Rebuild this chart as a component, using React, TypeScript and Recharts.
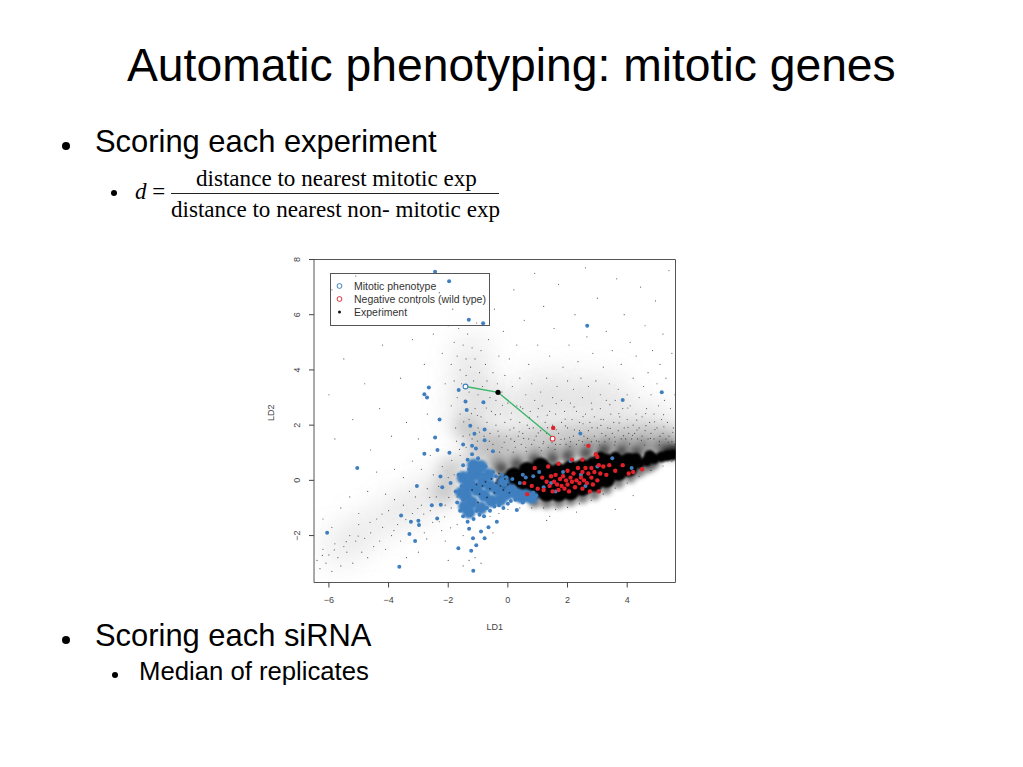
import React from "react";
import { ScatterChart, Scatter, XAxis, YAxis, ReferenceArea } from "recharts";

const titleText = "Automatic phenotyping: mitotic genes";
const xTicks = [-6, -4, -2, 0, 2, 4];
const yTicks = [-2, 0, 2, 4, 6, 8];

const faintHaze = [[-1.2,4.6],[-1.3,3.6],[-0.9,3],[-0.3,2.6],[0.6,2.4],[1.4,2.6],[2.4,2.5],[3.4,2.4],[4.4,2.2],[5.2,2],[-1.5,2.4],[1,3.4],[2.2,3.4],[3.4,3.2],[-4.8,-1.8],[-5.6,-2.4],[-3.8,-1.2],[-3,-0.8],[-2.2,-0.2]];
const midHaze = [[-0.8,1.5],[-0.2,1.35],[0.4,1.35],[1,1.45],[1.6,1.5],[2.2,1.6],[2.8,1.6],[3.4,1.6],[4,1.6],[4.6,1.6],[5.2,1.5],[5.5,1.4],[-1.1,0.9],[-0.4,0.9],[-1.4,1.9],[-1.9,0.4],[-2.1,-0.4]];
const denseHaze = [[-0.3,0.55],[0.3,0.7],[0.9,0.85],[1.5,0.95],[2.1,1.05],[2.7,1.15],[3.3,1.2],[3.9,1.2],[4.5,1.2],[5.1,1.15],[5.5,1.1]];
const blackCore = [[0.5,-0.1],[0.9,-0.35],[0.9,0.1],[1.3,-0.45],[1.3,0],[1.3,0.3],[1.7,-0.45],[1.7,-0.1],[1.7,0.3],[2.1,-0.4],[2.1,0],[2.1,0.4],[2.5,-0.25],[2.5,0.1],[2.5,0.45],[2.9,-0.1],[2.9,0.25],[2.9,0.55],[3.3,0.05],[3.3,0.4],[3.3,0.65],[3.7,0.3],[3.7,0.6],[4.05,0.45],[4.05,0.68],[0.2,0.15],[-0.1,-0.1],[1.1,0.5],[0.65,0.35]];
const blackTaper = [[4.4,0.62],[4.65,0.7],[4.9,0.78],[5.15,0.85],[5.35,0.9],[5.55,0.93],[4.3,0.8],[4.75,0.9],[3.6,0.85],[3.1,0.85]];
const blackEdge = [[5.3,1.02],[5.5,1.05],[5.6,1.05],[4.9,0.62],[4.7,0.48],[4.4,0.32],[4.1,0.12],[3.7,-0.08],[3.3,-0.3],[2.9,-0.5],[2.5,-0.62],[2.1,-0.72],[1.7,-0.8],[1.3,-0.82],[0.9,-0.78],[4.3,1],[3.8,1.02],[3.2,1.05],[2.6,0.95],[2,0.85],[1.5,0.75],[0.9,0.7],[0.3,0.55],[-0.2,0.4]];

const sparseDots = [
[-6.4,-2.9],[-6.3,-3.2],[-6.2,-2.5],[-6.1,-3],[-6,-2.7],[-5.9,-3.3],[-5.8,-2.3],[-5.7,-2.8],[-5.6,-3.1],[-5.5,-2.4],[-5.4,-2.6],[-5.3,-2],[-5.2,-3],[-5.1,-2.2],[-5,-1.6],[-4.9,-2.6],[-4.8,-2.1],[-4.7,-2.8],[-4.6,-1.9],[-4.5,-2.4],[-4.4,-1.4],[-4.3,-2.2],[-4.2,-1.7],[-4.1,-2.5],[-4,-1.1],[-3.9,-2],[-3.8,-0.7],[-3.7,-1.6],[-3.6,-2.2],[-3.5,-0.9],[-3.4,-2.8],[-3.3,-0.4],[-3.2,-1.2],[-3.1,-0.6],[-3,-2.6],[-2.9,-0.9],[-2.8,-1.9],[-2.7,-0.3],[-2.6,-1.1],[-2.5,0.2],[-2.4,-0.6],[-2.3,-1.5],[-2.2,0.5],[-2.1,-0.9],[-2,0.1],[-6.2,-1.4],[-5.9,-1.7],[-5.6,-1],[-5.3,-0.6],[-5,-1.2],[-4.7,-0.4],[-4.4,0.3],[-4.1,-0.5],[-3.8,0.4],[-3.5,0.1],[-3.2,0.7],[-2.9,0.4],[-2.6,0.9],[-5.8,1.5],[-5.2,2.2],[-4.6,1.1],[-4.3,2.6],[-3.9,1.6],[-3.4,2.1],[-3,1.5],[-2.7,2.4],[-6,3.1],[-5.5,4.4],[-4.8,3.5],[-4.2,4.9],[-3.6,3.7],[-3.2,5.1],[-2.8,4.2],[-5.9,6.9],[-5.1,7.4],[-4.3,6.2],[-3.7,7],[-3,6.4],[-2.5,5.3],[-2.3,6.8],[-2.2,4.6],[-2.1,3.5],[-2,5.6],[-1.9,4.2],[-1.9,2.7],[-1.85,6.2],[-1.8,3.6],[-1.8,5],[-1.75,1.9],[-1.7,4.5],[-1.7,3],[-1.65,5.5],[-1.6,2.4],[-1.6,4],[-1.55,3.5],[-1.5,4.9],[-1.5,1.6],[-1.45,2.9],[-1.4,4.4],[-1.4,3.8],[-1.35,5.3],[-1.3,2.2],[-1.3,3.2],[-1.25,4.1],[-1.2,4.8],[-1.2,1.5],[-1.15,3.6],[-1.1,2.6],[-1.1,4.4],[-1.05,5.7],[-1,3.1],[-1,1.9],[-0.95,3.9],[-0.9,2.3],[-0.9,4.7],[-0.85,3.4],[-0.8,1.6],[-0.8,2.8],[-0.75,4.2],[-0.7,3.6],[-0.7,2.1],[-0.65,5.1],[-0.6,3],[-0.6,1.7],[-0.55,2.5],[-0.5,3.9],[-0.5,1.3],[-0.45,6.2],[-0.4,2.9],[-0.4,2],[-0.35,3.5],[-0.3,4.5],[-0.3,1.6],[-0.25,2.4],[-0.2,3.2],[-0.2,1.2],[-0.15,5.4],[-0.1,2.1],[-0.1,3.8],[-0.05,1.6],[0,2.8],[0,1.1],[0.05,4.4],[0.1,2.2],[0.1,1.5],[0.15,3.4],[0.2,1.9],[0.2,6.9],[0.25,1.2],[0.3,2.7],[0.3,4.9],[0.35,1.6],[0.4,3.7],[0.4,2.1],[0.45,1.3],[0.5,2.6],[0.5,1.7],[0.55,5.8],[0.6,3.1],[0.6,1.2],[0.65,2],[0.7,4.2],[0.7,1.5],[0.75,2.5],[0.8,3.5],[0.8,1.3],[0.85,1.9],[0.9,7.5],[0.9,2.9],[0.95,1.6],[1,4.9],[1,2.3],[1.05,1.2],[1.1,3.2],[1.1,1.8],[1.15,2.7],[1.2,1.4],[1.2,6.3],[1.25,2.1],[1.3,3.7],[1.3,1.7],[1.35,1.2],[1.4,2.5],[1.4,4.5],[1.45,1.5],[1.5,3],[1.5,2],[1.55,5.5],[1.6,1.3],[1.6,2.4],[1.65,3.4],[1.7,1.7],[1.7,7.1],[1.75,1.3],[1.8,2.9],[1.8,2.1],[1.85,4.1],[1.9,1.5],[1.9,2.5],[1.95,1.3],[2,3.6],[2,1.9],[2.05,4.9],[2.1,1.4],[2.1,2.8],[2.15,2.2],[2.2,1.6],[2.2,3.3],[2.25,6],[2.3,1.3],[2.3,2.5],[2.35,4.3],[2.4,1.8],[2.4,2.1],[2.45,3.7],[2.5,1.4],[2.5,3],[2.55,1.6],[2.6,2.4],[2.6,7.7],[2.65,5.2],[2.7,1.8],[2.7,3.4],[2.75,2.1],[2.8,1.4],[2.8,2.8],[2.85,4.6],[2.9,1.6],[2.9,2.3],[2.95,3.6],[3,1.9],[3,6.6],[3.05,1.4],[3.1,2.6],[3.1,3.1],[3.15,1.7],[3.2,4.1],[3.2,2.2],[3.25,1.4],[3.3,2.9],[3.3,5.4],[3.35,1.9],[3.4,1.5],[3.4,3.5],[3.45,2.4],[3.5,1.7],[3.5,4.7],[3.55,2.1],[3.6,1.4],[3.6,2.9],[3.65,7.3],[3.7,1.8],[3.7,3.3],[3.75,2.3],[3.8,1.5],[3.8,4.2],[3.85,2.6],[3.9,1.9],[3.9,6],[3.95,1.5],[4,2.2],[4,3.1],[4.05,1.7],[4.1,5],[4.1,2.7],[4.15,1.5],[4.2,3.7],[4.2,2],[4.25,1.7],[4.3,2.4],[4.3,4.5],[4.35,1.5],[4.4,3],[4.4,1.9],[4.45,7],[4.5,2.3],[4.5,1.6],[4.55,3.4],[4.6,1.8],[4.6,5.6],[4.65,2.6],[4.7,1.5],[4.7,3.9],[4.75,2.1],[4.8,1.7],[4.8,3.1],[4.85,4.7],[4.9,2.4],[4.9,1.5],[4.95,6.5],[5,1.9],[5,3.5],[5.05,2.7],[5.1,1.6],[5.1,4.2],[5.15,2.2],[5.2,1.7],[5.2,5.3],[5.25,2.9],[5.3,1.5],[5.3,3.7],[5.35,2.1],[5.4,1.6],[5.4,7.6],[5.45,2.6],[5.5,1.4],[5.5,4.6],[5.55,1.9],[5.6,1.3],[5.6,3.1],
[-1.7,-0.6],[-1.8,0.2],[-1.6,0.9],[-1.9,-1],[-1.4,1.2],[-1.1,1.2],[-1.7,-1.6],[-1.5,-2],[-1.3,-2.9],[-1.1,-2.8],[-0.6,-1.3],[-0.3,-1.2],[0,-1.05],[0.4,-1],[0.8,-1],[1.2,-1],[1.6,-1.05],[2,-0.98],[2.4,-0.85],[2.8,-0.72],[3.2,-0.5],[3.6,-0.28],[4,-0.1],[4.4,0.14],[4.8,0.36],[5.2,0.52],[5.5,0.68],[1.4,-1.3],[3.6,-1.05],[-2.1,-2.2],[-2,-2.9],[-1.5,-3.1],[-0.9,-3],[-0.5,-1.9],[1.3,-1.45],[2.3,-1.15],[4.2,-0.55],
[-0.95,1.75],[-0.62,1.42],[-0.33,1.78],[-0.12,1.38],[0.07,1.83],[0.22,1.41],[0.38,1.76],[0.53,1.52],[0.72,1.88],[0.88,1.46],[1.02,1.72],[1.18,1.33],[1.33,1.91],[1.48,1.37],[1.62,1.83],[1.78,1.48],[1.93,1.97],[2.07,1.55],[2.23,1.83],[2.38,1.45],[2.52,2.05],[2.67,1.52],[2.82,1.91],[2.97,1.43],[3.12,1.99],[3.28,1.62],[3.43,1.88],[3.58,1.57],[3.73,2.08],[3.88,1.62],[4.03,1.92],[4.18,1.63],[4.33,1.82],[4.48,1.45],[4.63,1.98],[4.78,1.52],[4.93,1.84],[5.08,1.41],[5.23,1.94],[5.38,1.38],[5.53,1.74],
[-1.02,2.35],[-0.72,2.62],[-0.42,2.38],[-0.18,2.72],[0.12,2.44],[0.42,2.66],[0.72,2.28],[1.02,2.6],[1.32,2.36],[1.62,2.78],[1.92,2.22],[2.22,2.66],[2.52,2.31],[2.82,2.58],[3.12,2.21],[3.42,2.74],[3.72,2.42],[4.02,2.62],[4.32,2.18],[4.62,2.42],[4.92,2.12],[5.22,2.38],
[-1.62,1.12],[-1.88,0.72],[-1.28,1.65],[-1.48,2.12],[-1.72,1.42],[-1.22,2.42],[-1.02,1.42],[-0.68,1.12],[-0.28,1.02],[0.18,1.02],[0.62,1.05],[1.12,1.08],[1.58,1.12],[2.08,1.22],[2.58,1.28],[3.08,1.28],[3.58,1.28],[4.08,1.32],[4.58,1.28],[5.08,1.28],[5.58,1.22],
[-2.12,-1.32],[-1.98,-0.62],[-2.32,-0.22],[-2.62,-0.62],[-2.82,-1.22],[-3.02,-1.02],[-3.42,-1.42],[-3.82,-1.82],[-4.22,-1.22],[-4.62,-1.52],[-5.02,-2.02],[-5.42,-2.22],[-5.82,-2.52],[-6.22,-2.72],[-1.92,-1.72],[-2.22,-1.82],[-2.52,-1.52],[-2.72,-2.12]
];
const blackSpecks = [[-1.2,-0.35],[-1.05,-0.15],[-0.95,-0.5],[-0.85,-0.2],[-0.75,-0.05],[-0.6,-0.3],[-0.45,-0.45],[-0.4,-0.1],[-0.25,-0.2],[-0.15,-0.35],[-0.1,0.05],[0,-0.15],[0.05,-0.45],[0.12,0.12],[-0.7,-0.62],[-1,-0.8],[-0.55,0.05],[-0.3,0.25]];

const blueCore = [[-1.4,-0.55],[-1.25,-0.15],[-1.2,-0.8],[-1.05,0.25],[-1.05,-0.35],[-0.9,-1],[-0.85,-0.05],[-0.8,-0.55],[-0.6,-0.2],[-0.55,-0.75],[-0.35,-0.35],[-0.25,-0.7],[-0.15,-0.05],[-0.05,-0.5],[0.1,-0.35],[0.3,-0.5],[0.45,-0.6],[-1.2,0.2],[-0.65,0.2],[-1.35,-0.2],[-1.5,0.1],[-1.55,-0.45],[-1.45,-0.95],[-1.15,0.55],[-0.9,0.5],[-1.3,-1.15],[0.6,-0.55],[0.8,-0.62]];
const bluePoints = [
[-2.44,7.56],[-1.97,7.21],[-1.31,5.82],[-0.83,5.69],[2.66,5.6],[-2.65,3.36],[-2.8,3.12],[-2.71,3],[-1.65,3.27],[3.85,2.91],[5.16,3.19],[-1.42,2.86],[-0.82,2.83],[-1.38,2.55],[-2.29,2.2],[-1.26,1.98],[-0.78,1.84],[-1.12,1.69],[-2.44,1.55],[2.43,1.7],[-1.5,1.3],[-1.07,1.15],[-0.78,1.45],[-1.2,1.25],[-0.5,1.05],
[-5.05,0.45],[-6.06,-1.9],[-3.64,-3.13],[-1.16,-3.27],[-1.66,-2.46],[-1.23,-2.55],[-1.06,-2.35],[-3.11,-2.2],[-3.3,-1.94],[-3.58,-1.27],[-3.25,-1.5],[-3,-1.46],[-2.98,-1.62],[-2.37,-1.38],[-2.55,-0.9],[-2.25,-0.88],[-3.05,-0.2],[-2.8,0.96],[-2.36,1.1],[-1.96,1],[-2.26,0.14],[-2.2,-0.25],[-1.92,-0.1],[-1.17,-2.1],[-0.9,-1.85],[-0.78,-2.1],[-0.65,-1.7],[-0.37,-1.5],[0.3,-1.07],
[-1.75,-0.4],[-1.7,-0.8],[-1.65,0.2],[-1.6,-1.1],[-1.55,-0.2],[-1.5,0.55],[-1.5,-0.7],[-1.5,-1.3],[-1.45,0.1],[-1.4,-1],[-1.35,0.75],[-1.35,-1.5],[-1.3,-1.75],[-1.3,0.4],[-1.25,-1.25],[-1.2,0.95],[-1.15,-1.4],[-1.1,0.6],[-1.05,-1.1],[-1,0.8],[-0.95,-1.25],[-0.9,0.55],[-0.85,0.2],[-0.8,-1.3],[-0.75,0.5],[-0.7,-1],[-0.65,0.25],[-0.6,-1.1],[-0.5,0.3],[-0.45,-0.95],[-0.4,0.15],[-0.3,-0.9],[-0.2,0.2],[-0.15,-1],[-0.05,0.1],[0,-0.85],[0.1,-0.75],[0.15,0.05],[0.25,-0.7],[0.4,-0.1],[0.5,-0.8],[0.6,0.1],[0.65,-0.6],[0.75,-0.7],[0.85,-0.45],[0.95,-0.55],[1.05,0.3],[1.2,-0.25],[1.45,-0.1],[1.6,-0.4],[1.85,0.3],[2.1,0.7],[2.45,0.2],[2.6,-0.2],[0.5,0.2],[0.85,0.15],[3,0.5],[4.15,0.45],[3.5,0.8]
];
const redPoints = [
[1.52,1.9],[2.7,1.25],[0.55,-0.1],[0.65,-0.5],[0.8,-0.2],[1,-0.3],[1.15,0.1],[1.2,-0.35],[1.3,-0.05],[1.35,0.5],[1.4,-0.2],[1.45,0.15],[1.5,-0.4],[1.55,-0.05],[1.6,0.2],[1.65,-0.15],[1.7,-0.35],[1.75,0.05],[1.8,-0.2],[1.85,0.15],[1.9,-0.3],[1.95,0],[2,0.35],[2,-0.15],[2.05,-0.4],[2.1,0.1],[2.15,-0.05],[2.2,0.25],[2.25,-0.25],[2.3,0],[2.35,0.45],[2.4,-0.1],[2.45,0.1],[2.5,-0.3],[2.5,0.3],[2.55,0],[2.6,0.45],[2.65,-0.1],[2.7,0.25],[2.75,-0.4],[2.8,0.1],[2.8,0.45],[2.85,-0.15],[2.9,0.3],[3,0],[3,0.85],[3.05,0.55],[3.05,-0.4],[3.1,0.25],[3.2,0.5],[3.3,0.2],[3.4,0.55],[3.6,0.35],[3.85,0.55],[4.05,0.25],[4.2,0.3],[4.5,0.4],[2.15,0.75],[1.7,0.6],[0.9,0.45],[2.5,0.75],[2.95,0.95]
];
const selectedPath = [{ x: -1.42, y: 3.4 }, { x: -0.33, y: 3.19 }, { x: 1.5, y: 1.55 }];
const openBlue = [[-1.42, 3.4]];
const openRed = [[1.5, 1.51]];
const experimentPoint = [[-0.33, 3.19]];
const legendEntries = ["Mitotic phenotype", "Negative controls (wild type)", "Experiment"];

const rows = (list: number[][]) => list.map(([x, y]) => ({ x, y }));
const dot = (r: number, fill: string, opacity = 1, stroke = "none", blur = 0) => (p: any) => (
  <circle cx={p.cx} cy={p.cy} r={r} fill={fill} fillOpacity={opacity} stroke={stroke}
    strokeWidth={stroke === "none" ? 0 : 1.1} style={blur ? { filter: `blur(${blur}px)` } : undefined} />
);
const noDot = () => <g />;
const sans = "'Liberation Sans', Arial, sans-serif";
const serif = "'Liberation Serif', 'Times New Roman', serif";
const minus = (v: number) => String(v).replace("-", "\u2212");

const YTick = (p: any) => (
  <text transform={`rotate(-90 ${p.x} ${p.y})`} x={p.x} y={p.y} textAnchor="middle" fontSize={9} fill="#444" fontFamily={sans}>
    {minus(p.payload.value)}
  </text>
);

const LegendBox = () => (
  <svg width={160} height={53} style={{ position: "absolute", left: 330, top: 273, overflow: "visible" }}>
    <rect x={0.5} y={0.5} width={159} height={52} fill="none" stroke="#555" strokeWidth={1} />
    <circle cx={9.5} cy={13} r={2.4} fill="none" stroke="#3f7fbf" strokeWidth={1} />
    <circle cx={9.5} cy={26} r={2.4} fill="none" stroke="#e0303a" strokeWidth={1} />
    <circle cx={9.5} cy={39} r={1.5} fill="#111" />
    {legendEntries.map((t, i) => (
      <text key={t} x={24} y={17 + i * 13} fontSize={10.5} fill="#333" fontFamily={sans}>{t}</text>
    ))}
  </svg>
);

const Line = ({ style, children }: any) => (
  <div style={{ position: "absolute", whiteSpace: "nowrap", color: "#000", lineHeight: 1, ...style }}>{children}</div>
);
const Bullet = ({ x, y, r }: any) => (
  <div style={{ position: "absolute", left: x - r, top: y - r, width: 2 * r, height: 2 * r, borderRadius: "50%", background: "#000" }} />
);

export default function App() {
  return (
    <div style={{ position: "absolute", left: 0, top: 0, width: 1023, height: 767, background: "#fff", overflow: "hidden" }}>
      <Line style={{ left: 127, top: 42, fontFamily: sans, fontSize: 46.25 }}>{titleText}</Line>
      <Bullet x={66} y={146} r={4} />
      <Line style={{ left: 95, top: 127, fontFamily: sans, fontSize: 30.9 }}>Scoring each experiment</Line>
      <Bullet x={114} y={193} r={3} />
      <Line style={{ left: 135, top: 180, fontFamily: serif, fontSize: 23 }}><i>d</i> =</Line>
      <Line style={{ left: 196, top: 167, fontFamily: serif, fontSize: 23.1 }}>distance to nearest mitotic exp</Line>
      <div style={{ position: "absolute", left: 171, top: 193, width: 328, height: 1, background: "#222" }} />
      <Line style={{ left: 171, top: 198, fontFamily: serif, fontSize: 23.1 }}>distance to nearest non- mitotic exp</Line>
      <Bullet x={66} y={640} r={4} />
      <Line style={{ left: 95, top: 621, fontFamily: sans, fontSize: 30.9 }}>Scoring each siRNA</Line>
      <Bullet x={115} y={675} r={3} />
      <Line style={{ left: 139, top: 659, fontFamily: sans, fontSize: 25.7 }}>Median of replicates</Line>

      <div style={{ position: "absolute", left: 0, top: 0 }}>
        <ScatterChart width={1023} height={767} margin={{ left: 266, right: 347.5, top: 259.5, bottom: 137.5 }}>
          <XAxis type="number" dataKey="x" domain={[-6.5, 5.62]} ticks={xTicks} allowDataOverflow axisLine={false}
            tickSize={5} tickMargin={9} tickLine={{ stroke: "#444" }} tick={{ fontSize: 9, fill: "#444", fontFamily: sans }}
            tickFormatter={minus} interval={0} height={47}
            label={{ value: "LD1", position: "insideBottom", offset: 0, fontSize: 9, fill: "#444", fontFamily: sans }} />
          <YAxis type="number" dataKey="y" domain={[-3.7, 8]} ticks={yTicks} allowDataOverflow axisLine={false}
            tickSize={5} tickMargin={9} tickLine={{ stroke: "#444" }} tick={YTick} interval={0} width={48}
            label={{ value: "LD2", position: "insideLeft", angle: -90, offset: 5, fontSize: 9, fill: "#444", fontFamily: sans }} />
          <Scatter data={rows(faintHaze)} shape={dot(22, "#777", 0.1, "none", 12)} isAnimationActive={false} />
          <Scatter data={rows(midHaze)} shape={dot(13, "#555", 0.24, "none", 7)} isAnimationActive={false} />
          <Scatter data={rows(denseHaze)} shape={dot(9, "#333", 0.5, "none", 4)} isAnimationActive={false} />
          <Scatter data={rows(sparseDots)} shape={dot(0.6, "#333", 0.8)} isAnimationActive={false} />
          <Scatter data={rows(blackEdge)} shape={dot(6, "#222", 0.6, "none", 2.5)} isAnimationActive={false} />
          <Scatter data={rows(blackTaper)} shape={dot(5.5, "#000", 1, "none", 1)} isAnimationActive={false} />
          <Scatter data={rows(blackCore)} shape={dot(9, "#000", 1, "none", 1)} isAnimationActive={false} />
          <Scatter data={rows(blueCore)} shape={dot(6.5, "#3f7fbf", 1, "none", 1)} isAnimationActive={false} />
          <Scatter data={rows(bluePoints)} shape={dot(2, "#3f7fbf")} isAnimationActive={false} />
          <Scatter data={rows(blackSpecks)} shape={dot(0.9, "#1a2a3a", 0.85)} isAnimationActive={false} />
          <Scatter data={rows(redPoints)} shape={dot(2.2, "#e0202a")} isAnimationActive={false} />
          <Scatter data={selectedPath} line={{ stroke: "#3cb66a", strokeWidth: 1.4 }} shape={noDot} isAnimationActive={false} />
          <Scatter data={rows(openBlue)} shape={dot(2.4, "#fff", 1, "#3f7fbf")} isAnimationActive={false} />
          <Scatter data={rows(openRed)} shape={dot(2.4, "#fff", 1, "#e0303a")} isAnimationActive={false} />
          <Scatter data={rows(experimentPoint)} shape={dot(2.6, "#000")} isAnimationActive={false} />
          <ReferenceArea x1={-6.5} x2={5.62} y1={-3.7} y2={8} fill="none" stroke="#555" strokeWidth={1} />
        </ScatterChart>
      </div>
      <LegendBox />
    </div>
  );
}
